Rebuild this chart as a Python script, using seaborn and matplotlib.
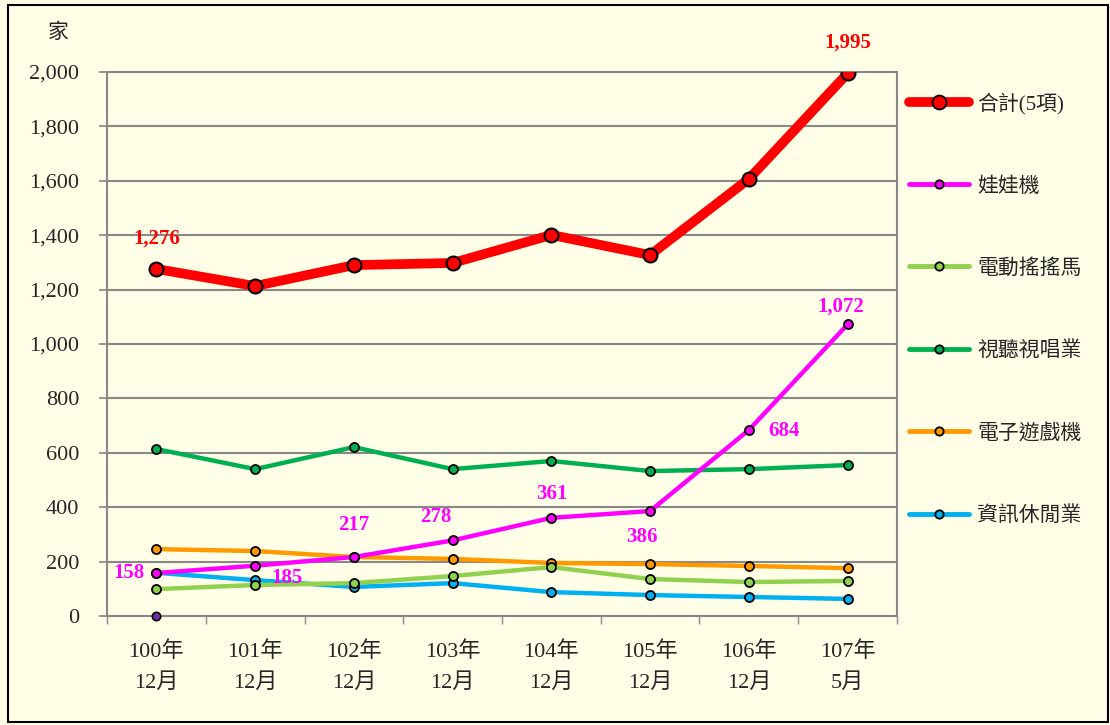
import matplotlib
matplotlib.use("Agg")
import matplotlib.pyplot as plt
from matplotlib.lines import Line2D
from matplotlib.patches import Rectangle
import pandas as pd
import seaborn as sns

# data
periods = ["100年\n12月", "101年\n12月", "102年\n12月", "103年\n12月",
           "104年\n12月", "105年\n12月", "106年\n12月", "107年\n5月"]
total = [1276, 1213, 1290, 1298, 1401, 1327, 1607, 1995]
doll = [158, 185, 217, 278, 361, 386, 684, 1072]
horse = [99, 114, 121, 147, 180, 136, 125, 129]
ktv = [614, 540, 621, 540, 570, 533, 540, 555]
arcade = [246, 239, 217, 210, 195, 191, 184, 176]
netcafe = [159, 132, 107, 121, 88, 77, 70, 63]
stray = [0]  # lone marker at the first period

series_names = ["合計(5項)", "娃娃機", "電動搖搖馬", "視聽視唱業", "電子遊戲機", "資訊休閒業"]
series_vals = [total, doll, horse, ktv, arcade, netcafe]
colors = ["#FF0000", "#FF00FF", "#92D050", "#00B050", "#FF9900", "#00B0F0"]

# label offsets (points) for the annotated values
total_labels = {0: (0, 22), 7: (0, 22)}
doll_labels = {0: (-20, 0), 1: (23, -9), 2: (0, 23), 3: (-12, 17),
               4: (0, 17), 5: (-6, -19), 6: (25, -1), 7: (-5, 13)}

sns.set_theme(style="white")
plt.rcParams["font.family"] = ["Liberation Serif", "Noto Sans CJK TC"]

bg = "#FFFFE8"
fig = plt.figure(figsize=(11.1, 7.25), dpi=100, facecolor=bg)
ax = fig.add_axes([0.0964, 0.1503, 0.7117, 0.7504])
ax.set_facecolor(bg)

x = list(range(len(periods)))
df = pd.DataFrame({"x": x * len(series_names),
                   "value": sum(series_vals, []),
                   "series": sum([[n] * len(x) for n in series_names], [])})

# draw small series first, total on top
for name, col in zip(reversed(series_names), reversed(colors)):
    sub = df[df["series"] == name]
    big = name == series_names[0]
    sns.lineplot(data=sub, x="x", y="value", ax=ax, color=col,
                 linewidth=7 if big else 3.2, marker="o",
                 markersize=10 if big else 6.5, markeredgecolor="black",
                 markeredgewidth=1.5 if big else 1.3, zorder=4 if big else 3)

ax.plot([0], stray, marker="o", markersize=6, color="#7030A0",
        markeredgecolor="black", markeredgewidth=1.2, linestyle="none",
        zorder=5, clip_on=False)

for i, (dx, dy) in total_labels.items():
    ax.annotate(f"{total[i]:,}", (i, total[i]), xytext=(dx, dy),
                textcoords="offset points", ha="center", va="center",
                color="#FF0000", fontsize=15, fontweight="bold")
for i, (dx, dy) in doll_labels.items():
    ax.annotate(f"{doll[i]:,}", (i, doll[i]), xytext=(dx, dy),
                textcoords="offset points", ha="center", va="center",
                color="#FF00FF", fontsize=15, fontweight="bold")

ax.set_xlim(-0.5, len(periods) - 0.5)
ax.set_ylim(0, 2000)
ax.set_yticks(range(0, 2001, 200))
ax.set_yticklabels([f"{v:,}" for v in range(0, 2001, 200)], fontsize=16)
ax.set_xticks(x)
ax.set_xticklabels(periods, fontsize=16, linespacing=1.75)
ax.set_xticks([i - 0.5 for i in range(len(periods) + 1)], minor=True)
ax.tick_params(axis="x", which="major", length=0, pad=18)
ax.tick_params(axis="x", which="minor", length=6, color="#888888",
               direction="out", bottom=True)
ax.tick_params(axis="y", length=6, color="#888888", direction="out",
               left=True, pad=14)
ax.yaxis.grid(True, color="#888888", linewidth=1.5)
ax.set_axisbelow(True)
for s in ax.spines.values():
    s.set_color("#888888")
    s.set_linewidth(1.5)
ax.set_xlabel("")
ax.set_ylabel("")

fig.text(58 / 1110, 1 - 33 / 725, "家", fontsize=15, ha="center", va="center")

handles = []
for name, col in zip(series_names, colors):
    big = name == series_names[0]
    handles.append(Line2D([], [], color=col, linewidth=7 if big else 3.5,
                          marker="o", markersize=10 if big else 6,
                          markeredgecolor="black", markeredgewidth=1.3))
fig.legend(handles, series_names, loc="upper left",
           bbox_to_anchor=(890 / 1110, 1 - 74 / 725), frameon=False,
           fontsize=15, handlelength=2.9, handletextpad=0.4,
           labelspacing=3.0)

fig.patches.append(Rectangle((0.007, 0.004), 0.991, 0.989,
                             transform=fig.transFigure, fill=False,
                             edgecolor="black", linewidth=1.5))

fig.savefig("out.png", dpi=100, facecolor=bg)
